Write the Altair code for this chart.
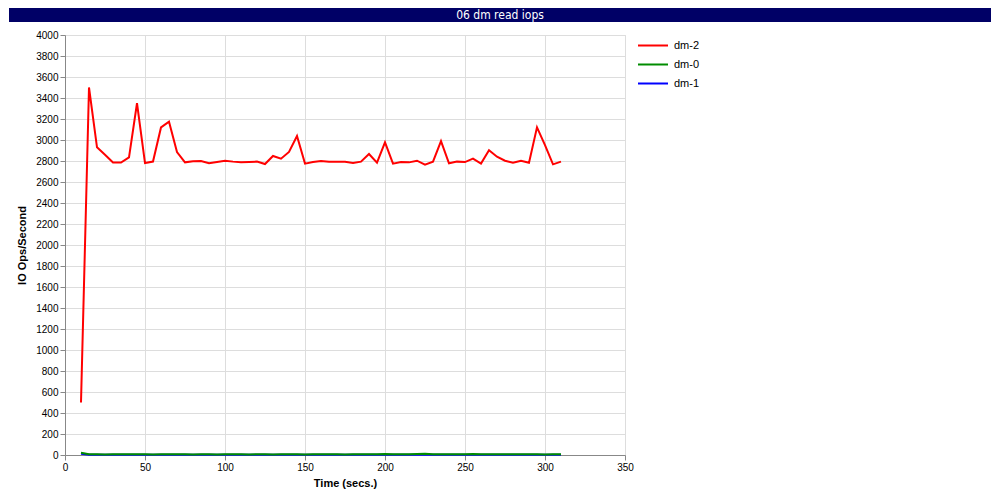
import altair as alt
import pandas as pd

times = list(range(10, 315, 5))

dm2 = [500, 3500, 2930, 2860, 2785, 2785, 2835, 3350, 2780, 2795, 3120, 3175, 2885, 2787, 2797,
       2800, 2778, 2790, 2803, 2794, 2787, 2790, 2794, 2771, 2848, 2822, 2886, 3038, 2775, 2790,
       2800, 2794, 2794, 2792, 2781, 2794, 2867, 2784, 2978, 2775, 2790, 2787, 2803, 2765, 2794,
       2990, 2778, 2794, 2790, 2822, 2775, 2902, 2841, 2803, 2784, 2803, 2784, 3121, 2952, 2768,
       2794]
dm0 = [22, 8, 6, 5, 6, 7, 6, 8, 7, 5, 6, 8, 7, 6, 5, 7, 6, 5, 8, 7, 6, 5, 7, 6, 5, 7, 8, 6, 5, 7,
       6, 8, 7, 5, 6, 7, 8, 6, 9, 7, 6, 8, 10, 12, 7, 6, 8, 7, 6, 9, 7, 6, 8, 7, 6, 8, 7, 6, 5, 6, 7]
dm1 = [12, 3, 2, 2, 3, 2, 2, 3, 2, 2, 3, 2, 2, 3, 2, 2, 3, 2, 2, 3, 2, 2, 3, 2, 2, 3, 2, 2, 3, 2,
       2, 3, 2, 2, 3, 2, 2, 3, 2, 2, 3, 2, 2, 3, 2, 2, 3, 2, 2, 3, 2, 2, 3, 2, 2, 3, 2, 2, 3, 2, 2]

series_names = ["dm-2", "dm-0", "dm-1"]
series_colors = ["#ff0000", "#008c00", "#0000ff"]
title_text = "06 dm read iops"

rows = []
for name, vals in [("dm-1", dm1), ("dm-0", dm0), ("dm-2", dm2)]:
    for t, v in zip(times, vals):
        rows.append({"time": t, "iops": v, "series": name})
df = pd.DataFrame(rows)

FONT = "Liberation Sans"

lines = alt.Chart(df).mark_line(strokeWidth=2).encode(
    x=alt.X("time:Q", title="Time (secs.)",
            scale=alt.Scale(domain=[0, 350], nice=False),
            axis=alt.Axis(values=list(range(0, 351, 50)), format="d", labelFlush=False,
                          titleY=28, titleBaseline="middle")),
    y=alt.Y("iops:Q", title="IO Ops/Second",
            scale=alt.Scale(domain=[0, 4000], nice=False),
            axis=alt.Axis(values=list(range(0, 4001, 200)), format="d", labelFlush=False,
                          titleX=-43, titleBaseline="middle")),
    color=alt.Color("series:N", title=None,
                    scale=alt.Scale(domain=series_names, range=series_colors),
                    legend=alt.Legend(orient="none", legendX=572, legendY=3,
                                      symbolType="stroke", symbolSize=900,
                                      symbolStrokeWidth=2, labelFontSize=11,
                                      labelFont=FONT, rowPadding=4, clipHeight=15,
                                      labelOffset=5)),
)

bar_df = pd.DataFrame({"label": [title_text]})
bar = alt.Chart(bar_df).mark_rect(color="#000066").encode(
    x=alt.value(-56), x2=alt.value(926), y=alt.value(-27), y2=alt.value(-13)
)
bar_text = alt.Chart(bar_df).mark_text(color="white", fontSize=12,
                                       font="DejaVu Sans Condensed, Liberation Sans Narrow, sans-serif",
                                       baseline="middle", align="center").encode(
    x=alt.value(435), y=alt.value(-20), text="label:N"
)

chart = alt.layer(bar, bar_text, lines).properties(
    width=560, height=420,
    autosize=alt.AutoSizeParams(type="none"),
    padding={"left": 57, "top": 27, "right": 367, "bottom": 41},
).configure_view(
    stroke="black", strokeWidth=1
).configure_axis(
    labelFont=FONT, labelFontSize=11, labelColor="black",
    titleFont=FONT, titleFontSize=11, titleFontWeight="bold", titleColor="black",
    domainColor="black", tickColor="black", tickSize=5,
    gridColor="#b0b0b0", gridWidth=1,
).configure(background="white")

chart.save("out.html", embed_options={"renderer": "svg", "actions": False})
